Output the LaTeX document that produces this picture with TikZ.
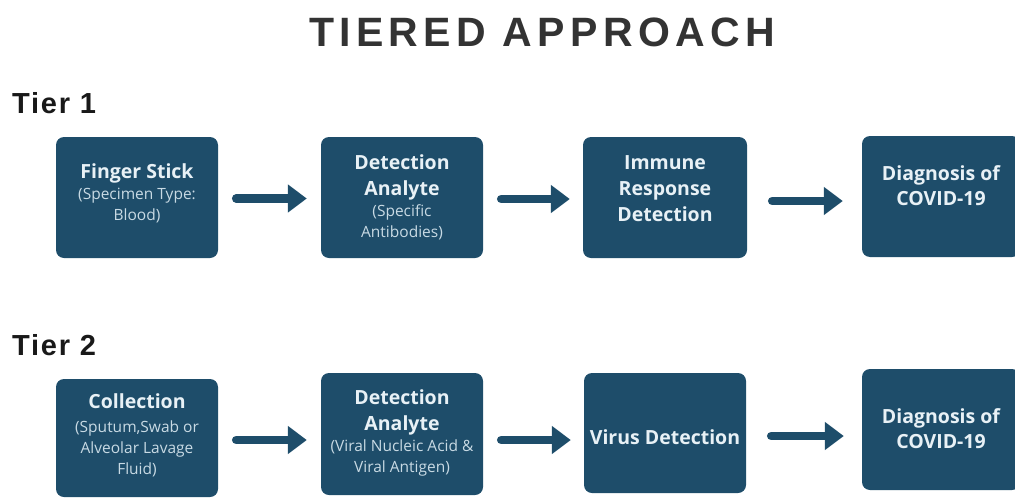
\documentclass[tikz,border=0pt]{standalone}
\usepackage{fontspec}
\setmainfont{Open Sans}
\newfontfamily\titlefont[LetterSpace=13]{Liberation Sans}
\newfontfamily\tierfont[LetterSpace=6]{Liberation Sans}
\usetikzlibrary{arrows.meta}
\definecolor{boxblue}{RGB}{30,77,106}
\definecolor{headtxt}{RGB}{232,241,246}
\definecolor{subtxt}{RGB}{200,218,228}
\definecolor{titlegray}{RGB}{51,51,51}
\newcommand{\hd}[1]{{\color{headtxt}\bfseries\fontsize{19.5}{21}\selectfont #1}}
\newcommand{\sbt}[1]{{\color{subtxt}\fontsize{15.5}{21}\selectfont #1}}
\tikzset{
  box/.style={draw=none, fill=boxblue, rounded corners=8pt, inner sep=0pt},
  txt/.style={align=center, inner sep=0pt, font=\fontsize{15.5}{21}\selectfont},
  arr/.style={draw=boxblue, line width=8.5pt, line cap=round,
    -{Triangle[length=19pt,width=27pt]}},
}
\begin{document}
\begin{tikzpicture}[x=1pt,y=-1pt]
\useasboundingbox (0,0) rectangle (1015,498);
\clip (0,0) rectangle (1015,498);
% title
\node[inner sep=0pt, text=titlegray, font=\titlefont\bfseries\fontsize{41}{48}\selectfont] (title) at (542,32) {TIERED APPROACH};
\node[inner sep=0pt, anchor=west, text=black!90, font=\tierfont\bfseries\fontsize{29}{34}\selectfont] (tier1) at (12,103.5) {Tier 1};
\node[inner sep=0pt, anchor=west, text=black!90, font=\tierfont\bfseries\fontsize{29}{34}\selectfont] (tier2) at (12,345.5) {Tier 2};
% tier 1 boxes
\node[box, minimum width=162pt, minimum height=121pt] (b11) at (137,197.5) {};
\node[box, minimum width=162pt, minimum height=121pt] (b12) at (402,197.5) {};
\node[box, minimum width=164pt, minimum height=121pt] (b13) at (665,197.5) {};
\node[box, minimum width=158pt, minimum height=121pt] (b14) at (941,196.5) {};
% tier 2 boxes
\node[box, minimum width=162pt, minimum height=118pt] (b21) at (137,438) {};
\node[box, minimum width=162pt, minimum height=122pt] (b22) at (402,434) {};
\node[box, minimum width=162pt, minimum height=120pt] (b23) at (665,433) {};
\node[box, minimum width=158pt, minimum height=121pt] (b24) at (941,429.5) {};
% texts tier 1
\node[txt] (t11) at (137,193) {\hd{Finger Stick}\\\sbt{(Specimen Type:}\\\sbt{Blood)}};
\node[txt] (t12) at (402,197) {\hd{Detection}\\[5pt]\hd{Analyte}\\\sbt{(Specific}\\\sbt{Antibodies)}};
\node[txt] (t13) at (665,188.5) {\hd{Immune}\\[5pt]\hd{Response}\\[5pt]\hd{Detection}};
\node[txt] (t14) at (941,185.5) {\hd{Diagnosis of}\\[4pt]\hd{COVID-19}};
% texts tier 2
\node[txt] (t21) at (137,435) {\hd{Collection}\\[3pt]\sbt{(Sputum,Swab or}\\\sbt{Alveolar Lavage}\\\sbt{Fluid)}};
\node[txt] (t22) at (402,432.5) {\hd{Detection}\\[5pt]\hd{Analyte}\\\sbt{(Viral Nucleic Acid \&}\\\sbt{Viral Antigen)}};
\node[txt] (t23) at (665,437) {\hd{Virus Detection}};
\node[txt] (t24) at (941,428.5) {\hd{Diagnosis of}\\[4pt]\hd{COVID-19}};
% arrows tier 1
\draw[arr, shorten <=18pt, shorten >=14pt] ([yshift=-1pt]b11.east) -- ([yshift=-1pt]b11.east -| b12.west);
\draw[arr, shorten <=18pt, shorten >=13pt] ([yshift=-1.5pt]b12.east) -- ([yshift=-1.5pt]b12.east -| b13.west);
\draw[arr, shorten <=25pt, shorten >=19pt] ([yshift=-3.5pt]b13.east) -- ([yshift=-3.5pt]b13.east -| b14.west);
% arrows tier 2
\draw[arr, shorten <=18pt, shorten >=14pt] ([yshift=-2pt]b21.east) -- ([yshift=-2pt]b21.east -| b22.west);
\draw[arr, shorten <=18pt, shorten >=13pt] ([yshift=-6pt]b22.east) -- ([yshift=-6pt]b22.east -| b23.west);
\draw[arr, shorten <=25pt, shorten >=18pt] ([yshift=-3pt]b23.east) -- ([yshift=-3pt]b23.east -| b24.west);
\end{tikzpicture}
\end{document}
